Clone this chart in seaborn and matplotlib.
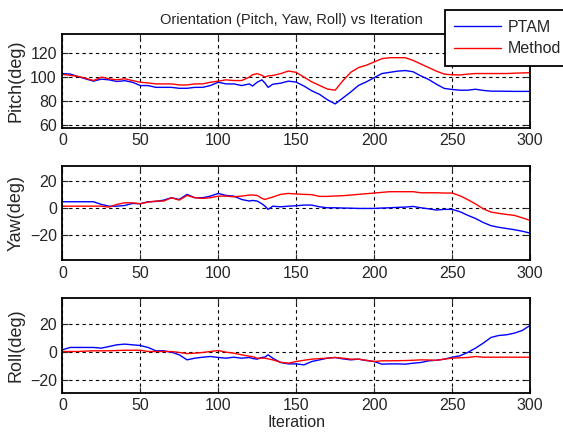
import numpy as np
import pandas as pd
import matplotlib
matplotlib.use("Agg")
import matplotlib.pyplot as plt
import seaborn as sns

# iteration grid (every 5, plus a few points around the spikes near 125-132)
iters = list(range(0, 121, 5)) + [122, 125, 128, 130, 132] + list(range(135, 301, 5))

pitch_ptam = [102.9, 102.6, 100.5, 98.5, 96.6, 98.3, 97.7, 96.3, 97.0, 95.7,
              92.9, 92.9, 91.4, 91.4, 91.4, 90.6, 90.6, 91.4, 91.4, 92.9,
              95.7, 94.3, 94.3, 92.9, 94.3, 92.5, 95.7, 97.7, 95.0, 91.4,
              94.0, 94.9, 96.6, 95.8, 92.5, 88.5, 85.5, 81.0, 77.5, 82.5,
              87.5, 93.0, 96.0, 99.5, 103.0, 104.0, 105.0, 105.5, 104.5, 101.0,
              98.0, 94.0, 90.5, 89.6, 89.0, 89.0, 89.8, 88.8, 88.2, 88.2,
              88.1, 88.0, 88.0, 88.0]
pitch_method = [102.3, 101.5, 100.6, 99.0, 97.1, 100.0, 98.6, 97.7, 98.6, 97.1,
                95.7, 95.1, 94.3, 94.3, 94.3, 93.4, 93.4, 94.3, 94.3, 95.7,
                96.6, 97.7, 97.1, 97.1, 100.0, 102.0, 102.9, 101.5, 100.0, 101.0,
                101.4, 102.9, 105.1, 104.0, 100.0, 96.0, 93.0, 90.0, 89.0, 97.0,
                104.0, 108.0, 110.0, 112.7, 115.5, 116.3, 116.3, 116.3, 114.0, 111.0,
                108.0, 105.0, 102.5, 102.0, 101.8, 102.5, 103.0, 103.0, 103.0, 103.0,
                103.0, 103.3, 103.5, 103.7]

yaw_ptam = [4.5, 4.5, 4.5, 4.5, 4.5, 2.5, 1.2, 1.2, 1.7, 3.2,
            3.0, 4.5, 4.7, 5.7, 7.5, 6.2, 10.0, 7.5, 7.5, 8.7,
            10.7, 9.2, 8.7, 6.2, 5.0, 5.5, 5.0, 3.0, 1.2, -1.2,
            1.2, 0.7, 1.2, 1.5, 2.0, 2.0, 0.7, 0.0, 0.0, -0.2,
            -0.3, -0.5, -0.5, -0.5, -0.2, 0.0, 0.3, 0.5, 1.0, 0.0,
            -0.8, -1.7, -1.2, -1.2, -2.9, -5.6, -8.0, -11.0, -13.4, -14.6,
            -15.5, -16.4, -17.5, -18.9]
yaw_method = [1.2, 1.2, 1.2, 1.2, 1.2, 1.2, 0.5, 2.5, 3.7, 3.7,
              3.0, 4.2, 5.0, 5.0, 7.5, 5.7, 9.2, 7.5, 7.0, 7.5,
              8.7, 8.7, 8.2, 8.7, 9.5, 9.5, 9.2, 7.0, 6.2, 7.0,
              8.0, 10.0, 10.7, 10.3, 10.0, 9.8, 8.5, 8.5, 8.8, 9.0,
              9.5, 10.0, 10.5, 11.0, 11.5, 12.0, 12.0, 12.0, 12.0, 11.2,
              11.2, 11.2, 11.0, 11.0, 9.0, 6.1, 2.9, -0.8, -3.2, -4.2,
              -5.0, -5.7, -7.5, -9.4]

roll_ptam = [1.7, 3.4, 3.4, 3.4, 3.4, 2.9, 4.1, 5.3, 5.8, 5.3,
             4.8, 3.4, 1.0, 1.0, 0.0, -1.9, -5.5, -4.3, -3.6, -3.1,
             -3.8, -4.3, -3.6, -4.3, -3.8, -4.5, -5.0, -3.8, -3.5, -1.9,
             -4.3, -7.4, -8.4, -8.4, -9.1, -6.7, -5.5, -4.3, -3.8, -4.8,
             -5.5, -5.0, -6.0, -6.7, -8.6, -8.4, -8.4, -8.6, -7.9, -7.4,
             -6.2, -5.8, -5.0, -3.6, -2.6, -0.2, 2.9, 6.5, 10.6, 12.0,
             12.5, 13.7, 15.6, 19.2]
roll_method = [0.5, 0.5, 0.5, 0.8, 1.0, 1.0, 1.0, 1.2, 1.4, 1.4,
               1.4, 0.5, 0.5, 0.5, 0.5, -0.2, -1.0, -0.7, -0.2, 0.5,
               1.2, 0.0, -0.7, -1.9, -2.9, -3.2, -4.3, -4.3, -4.3, -4.8,
               -5.5, -7.2, -7.9, -6.7, -5.8, -5.0, -4.6, -4.3, -3.8, -4.3,
               -5.0, -5.0, -5.8, -6.7, -6.2, -6.2, -6.1, -6.0, -5.8, -5.5,
               -5.6, -5.8, -5.0, -4.3, -4.0, -3.8, -3.1, -3.6, -3.6, -3.6,
               -3.6, -3.6, -3.6, -3.6]

panels = [
    ("Pitch(deg)", pitch_ptam, pitch_method, (57.5, 136.2), [60, 80, 100, 120]),
    ("Yaw(deg)", yaw_ptam, yaw_method, (-39, 31.2), [-20, 0, 20]),
    ("Roll(deg)", roll_ptam, roll_method, (-29.1, 38.7), [-20, 0, 20]),
]

sns.set_style("ticks")
plt.rcParams['font.family'] = ['Liberation Sans', 'DejaVu Sans']
plt.rcParams['font.size'] = 11

fig = plt.figure(figsize=(5.63, 4.36), dpi=100)
boxes = [[0.1107, 0.7071, 0.8307, 0.2149],
         [0.1107, 0.4037, 0.8307, 0.2156],
         [0.1107, 0.0993, 0.8307, 0.2165]]

axes = []
for (label, ptam, method, ylim, yticks), box in zip(panels, boxes):
    ax = fig.add_axes(box)
    df = pd.DataFrame({"Iteration": iters, "PTAM": ptam, "Method": method})
    long = df.melt(id_vars="Iteration", var_name="series", value_name="deg")
    sns.lineplot(data=long, x="Iteration", y="deg", hue="series",
                 palette={"PTAM": "#0000ff", "Method": "#ff0000"},
                 linewidth=1.0, ax=ax, legend=False)
    ax.set_xlim(0, 300)
    ax.set_ylim(*ylim)
    ax.set_xticks(range(0, 301, 50))
    ax.set_yticks(yticks)
    ax.grid(True, color="black", linestyle=(0, (3, 3)), linewidth=0.8)
    ax.tick_params(direction="in", top=True, right=True, length=4, width=0.8,
                   labelsize=11.5, pad=4)
    for s in ax.spines.values():
        s.set_linewidth(1.3)
        s.set_color("black")
    ax.set_ylabel(label, fontsize=13, labelpad=4)
    ax.set_xlabel("")
    axes.append(ax)

axes[0].set_title("Orientation (Pitch, Yaw, Roll) vs Iteration", fontsize=10.5, pad=7, x=0.49)
axes[2].set_xlabel("Iteration", fontsize=11.5, labelpad=1)

handles = axes[0].get_lines()[:2]
leg = fig.legend(handles, ["PTAM", "Method"], loc="upper left",
                 bbox_to_anchor=(0.790, 0.977), frameon=True, fancybox=False,
                 edgecolor="black", framealpha=1, handlelength=2.95,
                 handletextpad=0.4, fontsize=11.5, borderpad=0.6,
                 labelspacing=0.42, borderaxespad=0)
leg.get_frame().set_linewidth(1.3)

fig.savefig("out.png", dpi=100, facecolor="white")
